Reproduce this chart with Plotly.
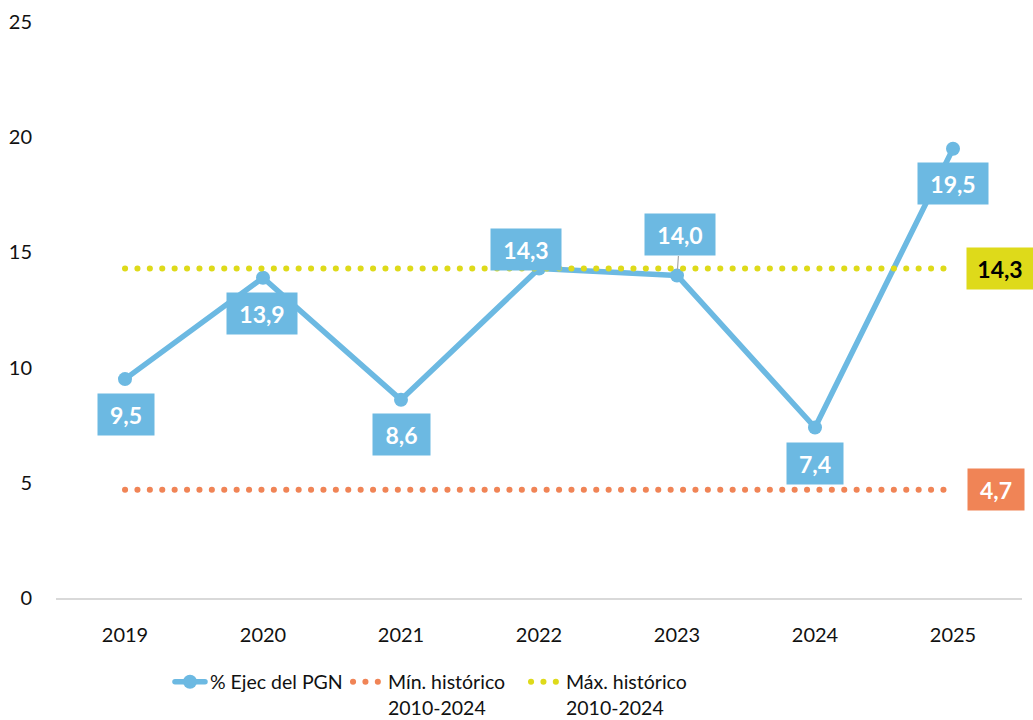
import plotly.graph_objects as go

# ---- data ----
years = [2019, 2020, 2021, 2022, 2023, 2024, 2025]
ejec_pgn = [9.5, 13.9, 8.6, 14.3, 14.0, 7.4, 19.5]
min_hist = 4.7
max_hist = 14.3
series_names = ["% Ejec del PGN", "Mín. histórico<br>2010-2024", "Máx. histórico<br>2010-2024"]

# ---- styles / label placement (pixels) ----
BLUE = "#6CB9E2"
ORANGE = "#F08456"
YELLOW = "#DEDA1A"
FONT = "Lato"
label_dx = [1, -1, 0, -13, 3, 0, 0]
label_dy = [35.5, 35.5, 35, -19.5, -40.5, 35.5, 34.5]
label_w = [56, 70, 57, 70, 70, 56, 70]
leader = [False, False, False, False, True, False, False]

def fmt(v):
    return f"{v:.1f}".replace(".", ",")

fig = go.Figure()
fig.add_trace(go.Scatter(
    x=years, y=ejec_pgn, mode="lines+markers", name=series_names[0],
    line=dict(color=BLUE, width=5.5),
    marker=dict(color=BLUE, size=14),
))
fig.add_trace(go.Scatter(
    x=years, y=[min_hist] * len(years), mode="lines", name=series_names[1],
    line=dict(color=ORANGE, width=6, dash="0.1px,12.3px"),
))
fig.add_trace(go.Scatter(
    x=years, y=[max_hist] * len(years), mode="lines", name=series_names[2],
    line=dict(color=YELLOW, width=6, dash="0.1px,12.3px"),
))

annotations = []
for i, (yr, v) in enumerate(zip(years, ejec_pgn)):
    annotations.append(dict(
        x=yr, y=v, xref="x", yref="y",
        text=f"<b>{fmt(v)}</b>",
        showarrow=True, ax=label_dx[i], ay=label_dy[i],
        axref="pixel", ayref="pixel",
        arrowhead=0, arrowwidth=1.2, standoff=6,
        arrowcolor="#A6A6A6" if leader[i] else "rgba(0,0,0,0)",
        bgcolor=BLUE, width=label_w[i] - 2, height=39, borderpad=1,
        font=dict(family=FONT, size=23, color="white"),
    ))
annotations.append(dict(
    x=years[-1], y=max_hist, xref="x", yref="y", xshift=47,
    text=f"<b>{fmt(max_hist)}</b>", showarrow=False,
    bgcolor=YELLOW, width=64, height=39, borderpad=1,
    font=dict(family=FONT, size=23, color="black"),
))
annotations.append(dict(
    x=years[-1], y=min_hist, xref="x", yref="y", xshift=43,
    text=f"<b>{fmt(min_hist)}</b>", showarrow=False,
    bgcolor=ORANGE, width=54, height=39, borderpad=1,
    font=dict(family=FONT, size=23, color="white"),
))

fig.update_layout(
    width=1033, height=720,
    margin=dict(l=56, r=11, t=22, b=122, autoexpand=False),
    paper_bgcolor="white", plot_bgcolor="white",
    font=dict(family=FONT, size=20, color="#111111"),
    showlegend=True,
    legend=dict(
        orientation="h", x=0.118, xanchor="left", y=-0.112, yanchor="top",
        valign="top", entrywidth=133, entrywidthmode="pixels",
        font=dict(family=FONT, size=19.5, color="#111111"),
        bgcolor="rgba(0,0,0,0)",
    ),
    annotations=annotations,
)
fig.update_xaxes(
    range=[years[0] - 0.5, years[-1] + 0.5], tickmode="array", tickvals=years,
    showgrid=False, zeroline=False, automargin=False,
    showline=True, linecolor="#D9D9D9", linewidth=1.5,
    ticks="", ticklabelstandoff=18,
    tickfont=dict(family=FONT, size=20, color="#111111"),
)
fig.update_yaxes(
    range=[0, 25], dtick=5, showgrid=False, zeroline=False, showline=False,
    automargin=False, ticks="", ticklabelstandoff=23,
    tickfont=dict(family=FONT, size=20, color="#111111"),
)

post = (
    "document.body.style.margin='0';"
    "document.body.style.overflow='hidden';"
    "var s=document.createElement('style');"
    "s.textContent='.js-line{stroke-linecap:round;stroke-linejoin:round}';"
    "document.head.appendChild(s);"
)
fig.write_html("out.html", post_script=post, config={"displayModeBar": False})
